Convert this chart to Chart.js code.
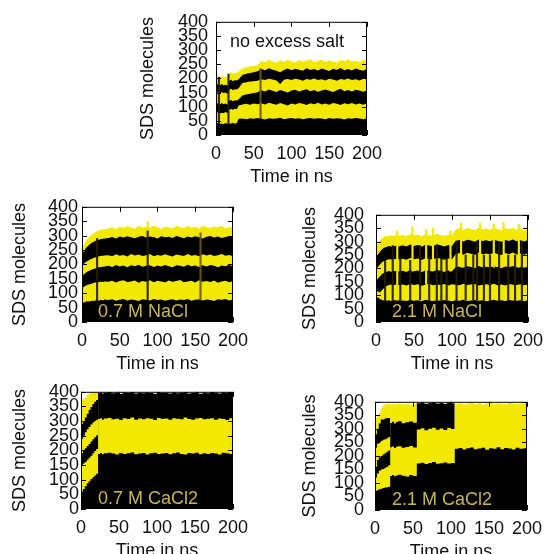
<!DOCTYPE html>
<html>
<head>
<meta charset="utf-8">
<script src="https://cdn.jsdelivr.net/npm/chart.js@4.4.1/dist/chart.umd.min.js"></script>
<style>
    html, body { margin: 0; padding: 0; background: #fff; overflow: hidden; }
    #fig { position: relative; width: 550px; height: 554px; overflow: hidden; }
    #fig canvas { position: absolute; }
</style>
</head>
<body>
<div id="fig"></div>
<script>
'use strict';

// время, нс (общая сетка для всех панелей)
const times = [0, 2.5, 5, 7.5, 10, 12.5, 15, 17.5, 20, 22.5, 25, 27.5, 30,
    35, 40, 45, 50, 55, 60, 65, 70, 75, 80, 85, 90, 95, 100, 105, 110, 115, 120,
    125, 130, 135, 140, 145, 150, 155, 160, 165, 170, 175, 180, 185, 190, 195, 200];

// границы полос (накопленное число молекул SDS), снизу вверх
// no excess salt
const noSalt1 = [40, 42, 39, 41, 38, 42, 40, 39, 41, 43, 40, 42, 57,
    58, 56, 59, 57, 60, 58, 55, 59, 57, 58, 61, 56, 58, 60, 57, 59, 56,
    58, 60, 57, 59, 58, 56, 60, 57, 59, 58, 55, 59, 57, 60, 58, 56, 59];
const noSalt2 = [78, 80, 76, 79, 77, 81, 78, 90, 92, 89, 93, 91, 104,
    108, 110, 107, 111, 109,
    112, 108, 114, 110, 107, 113, 109, 104, 111, 108, 113, 110, 106, 112, 109,
    114, 108, 111, 107, 113, 110, 106, 112, 109, 113, 108, 111, 107, 112];
const noSalt3 = [110, 112, 108, 113, 109, 111, 107, 121, 124, 119, 123, 122, 126,
    140, 143, 146, 148, 151,
    158, 154, 161, 156, 152, 159, 155, 150, 157, 160, 154, 158, 162, 155, 159,
    153, 157, 161, 156, 152, 158, 163, 155, 159, 154, 160, 157, 153, 158];
const noSalt4 = [149, 151, 147, 152, 148, 150, 146, 160, 163, 158, 162, 161, 165,
    184, 186, 189, 190, 192,
    197, 194, 199, 196, 193, 180, 195, 198, 194, 199, 196, 192, 198, 195, 200,
    194, 197, 193, 199, 196, 192, 198, 195, 200, 194, 197, 193, 199, 196];
const noSalt5 = [177, 179, 175, 180, 176, 178, 174, 192, 195, 190, 194, 193, 197,
    212, 216, 219, 222, 225,
    233, 229, 236, 231, 227, 222, 230, 235, 229, 234, 231, 227, 236, 230, 233,
    228, 235, 231, 226, 234, 230, 237, 229, 233, 228, 235, 231, 227, 234];
const noSalt6 = [205, 208, 203, 209, 204, 207, 200, 218, 222, 216, 220, 219, 224,
    236, 239, 242, 244, 246,
    262, 257, 266, 259, 255, 264, 258, 267, 260, 256, 265, 259, 263, 268, 257,
    262, 266, 258, 264, 260, 256, 265, 261, 268, 259, 263, 257, 266, 262];

// 0.7 M NaCl
const nacl07_1 = [66, 68, 70, 72, 71, 74, 73, 75, 76, 74, 77, 75, 78,
    76, 79, 74, 77, 80, 75, 78, 76, 73, 79, 77, 75, 80, 76, 78, 74, 77,
    79, 75, 78, 76, 80, 74, 77, 79, 75, 78, 76, 73, 79, 77, 80, 75, 78];
const nacl07_2 = [118, 122, 126, 129, 131, 133, 135, 137, 138, 139, 140, 139, 141,
    140, 143, 137, 142, 145, 139, 141, 144, 136, 142, 140, 145, 138, 143, 141, 137, 144,
    140, 142, 146, 138, 141, 143, 137, 145, 140, 142, 139, 144, 136, 141, 143, 138, 142];
const nacl07_3 = [160, 166, 171, 175, 178, 181, 184, 186, 188, 190, 191, 192, 193,
    195, 191, 198, 193, 196, 190, 197, 194, 199, 192, 195, 197, 191, 196, 193, 198, 194,
    190, 197, 195, 192, 199, 194, 196, 191, 197, 193, 198, 195, 190, 196, 194, 199, 193];
const nacl07_4 = [195, 202, 208, 212, 216, 219, 222, 224, 226, 228, 229, 230, 231,
    232, 228, 235, 230, 233, 227, 236, 231, 234, 229, 232, 236, 228, 233, 230, 235, 231,
    227, 234, 232, 229, 236, 230, 233, 228, 235, 231, 234, 229, 232, 236, 230, 233, 228];
const nacl07_5 = [235, 246, 256, 263, 269, 274, 278, 281, 284, 286, 288, 289, 290,
    292, 295, 290, 297, 293, 298, 294, 291, 296, 299, 293, 297, 295, 290, 298, 294, 296,
    292, 299, 295, 291, 297, 293, 298, 294, 290, 296, 299, 293, 297, 292, 295, 298, 294];
const nacl07_6 = [255, 268, 280, 290, 297, 303, 308, 312, 315, 318, 320, 321, 322,
    325, 329, 322, 331, 326, 333, 328, 324, 335, 327, 331, 326, 334, 329, 323, 332, 328,
    325, 334, 330, 326, 333, 327, 331, 324, 335, 329, 326, 332, 328, 334, 325, 330, 327];

// 2.1 M NaCl
const nacl21_1 = [88, 92, 86, 83, 80, 82, 79, 81, 78, 80, 82, 79, 81,
    80, 78, 82, 79, 81, 77, 83, 80, 78, 81, 79, 82, 80, 77, 81, 79, 83,
    78, 80, 82, 79, 81, 77, 80, 83, 79, 81, 78, 82, 80, 79, 81, 78, 80];
const nacl21_2 = [112, 115, 110, 118, 125, 132, 136, 138, 140, 137, 139, 141, 138,
    140, 136, 142, 138, 141, 135, 139, 143, 137, 140, 138, 142, 136, 141, 139, 137, 143,
    138, 140, 142, 136, 139, 141, 138, 143, 137, 140, 136, 142, 139, 138, 141, 137, 140];
const nacl21_3 = [150, 162, 170, 178, 183, 186, 188, 190, 187, 191, 189, 192, 188,
    191, 187, 194, 189, 192, 186, 193, 190, 188, 194, 191, 187, 192, 189,
    204, 207, 202, 208, 205, 201, 209, 204, 206, 203, 208, 205, 201, 207, 204, 209, 203, 206, 202, 207];
const nacl21_4 = [195, 205, 214, 222, 227, 230, 232, 234, 233, 236, 234, 237, 233,
    236, 232, 239, 234, 237, 231, 238, 235, 233, 240, 236, 232, 237, 234,
    254, 257, 251, 258, 255, 250, 259, 253, 256, 252, 258, 254, 250, 257, 253, 259, 252, 256, 251, 257];
const nacl21_5 = [240, 252, 262, 270, 276, 279, 282, 284, 281, 285, 283, 286, 282,
    286, 282, 289, 284, 287, 281, 288, 285, 283, 290, 286, 282, 287, 284,
    303, 306, 300, 307, 304, 299, 308, 302, 305, 301, 307, 303, 299, 306, 302, 308, 301, 305, 300, 306];
const nacl21_6 = [280, 295, 305, 312, 317, 320, 322, 321, 324, 321, 323, 325, 322,
    325, 321, 328, 323, 326, 320, 327, 324, 322, 329, 325, 321, 326, 323,
    346, 350, 343, 351, 347, 342, 352, 345, 349, 344, 351, 347, 342, 350, 346, 352, 344, 349, 343, 348];

// 0.7 M CaCl2 (верхние полосы есть только в начале)
const cacl07_1 = [60, 68, 78, 88, 95, 102, 108, 114, 120,
    188, 191, 187, 190, 192, 189, 186, 191, 188, 190, 193, 187, 189, 191, 186, 190, 192, 188, 189,
    191, 187, 190, 193, 188, 186, 191, 189, 192, 187, 190, 188, 191, 189, 186, 192, 190, 188, 191];
const cacl07_2 = [150, 155, 160, 168, 175, 182, 190, 198, 205,
    307, 310, 305, 309, 311, 306, 308, 304, 310, 307, 312, 305, 309, 306, 310, 308, 304, 311, 307,
    309, 305, 310, 308, 306, 312, 307, 305, 309, 311, 306, 308, 310, 305, 309, 307, 304, 310, 308];
const cacl07_3 = [190, 198, 207, 215, 222, 230, 238, 245, 252,
    396, 398, 394, 397, 399, 395, 397, 393, 398, 396, 399, 394, 397, 395, 398, 396, 393, 399, 396,
    397, 394, 398, 395, 397, 399, 394, 396, 398, 393, 397, 395, 399, 396, 394, 398, 396, 397, 395];
const cacl07_4 = [240, 250, 262, 272, 280, 288, 295, 300, 305, 396];
const cacl07_5 = [290, 300, 312, 325, 338, 348, 358, 366, 372, 396];
const cacl07_6 = [372, 375, 380, 388, 394, 397, 398, 398, 398, 398];

// 2.1 M CaCl2
const cacl21_1 = [70, 74, 77, 79, 81, 83, 84, 86,
    126, 129, 125, 128, 130, 127, 124, 129, 126,
    172, 175, 170, 174, 177, 171, 173, 176, 172, 174,
    226, 229, 224, 228, 231, 225, 227, 230, 223, 228, 226, 232, 225, 229, 227, 224, 230, 226, 228, 225];
const cacl21_2 = [120, 135, 145, 150, 152, 156, 160, 165,
    232, 235, 229, 234, 236, 230, 233, 237, 231,
    298, 302, 295, 300, 304, 297, 301, 296, 303, 299,
    393, 395, 391, 394, 396, 392, 395, 390, 394, 396, 392, 395, 393, 391, 396, 394, 392, 395, 393, 394];
const cacl21_3 = [160, 185, 195, 200, 205, 210, 215, 220,
    322, 326, 320, 325, 328, 321, 324, 327, 323,
    395, 397, 393, 396, 398, 394, 396, 393, 397, 395, 396];
const cacl21_4 = [230, 245, 250, 255, 260, 262, 265, 270,
    391, 393, 390, 392, 394, 391, 393, 390, 392, 395];
const cacl21_5 = [280, 300, 320, 335, 335, 338, 340, 340, 391];
const cacl21_6 = [340, 350, 358, 375, 385, 390, 392, 394, 391];

// кратковременные выбросы (вертикальные штрихи): время, от, до
const noSaltSpikeT = [3.9, 16.5, 59];
const noSaltSpikeLo = [40, 40, 58];
const noSaltSpikeHi = [205, 215, 235];

const nacl07SpikeT = [20, 87, 87, 157];
const nacl07SpikeLo = [76, 76, 318, 76];
const nacl07SpikeHi = [290, 318, 348, 310];

const nacl21DarkT = [12, 22, 32, 45, 58, 70, 80, 86, 93, 106, 118, 128, 133, 142, 150, 162, 174, 183, 192];
const nacl21DarkLo = [82, 80, 81, 80, 82, 80, 81, 80, 82, 80, 81, 80, 82, 80, 81, 80, 82, 80, 81];
const nacl21DarkHi = [230, 285, 240, 230, 285, 240, 285, 235, 240, 300, 250, 250, 300, 250, 250, 300, 250, 250, 300];
const nacl21LightT = [28, 48, 66, 75, 98, 112, 137, 155, 168, 188];
const nacl21LightLo = [140, 190, 140, 200, 190, 205, 255, 205, 255, 205];
const nacl21LightHi = [340, 355, 345, 350, 340, 368, 370, 365, 372, 365];

const BLACK = '#000000';
const YELLOW = '#f3e800';
const DARK = 'rgba(35,28,5,0.9)';
const BROWN = 'rgba(105,85,30,0.9)';
const SALT_TEXT = '#c9b558';
const FONT = '"Liberation Sans", Arial, Helvetica, sans-serif';

Chart.defaults.font.family = FONT;
Chart.defaults.font.size = 18;
Chart.defaults.color = '#111';

// расположение панелей: область графика в пикселях страницы
const panels = [
    {
        bounds: [noSalt1, noSalt2, noSalt3, noSalt4, noSalt5, noSalt6], stepped: false,
        spikes: { t: noSaltSpikeT, lo: noSaltSpikeLo, hi: noSaltSpikeHi, color: [DARK, DARK, BROWN] },
        text: 'no excess salt', textColor: '#111', dx: 14, dy: 20, fromTop: true,
        left: 216, top: 15, right: 370, bottom: 135, tickGap: 8, titlePad: 1.5,
    },
    {
        bounds: [nacl07_1, nacl07_2, nacl07_3, nacl07_4, nacl07_5, nacl07_6], stepped: false,
        spikes: { t: nacl07SpikeT, lo: nacl07SpikeLo, hi: nacl07SpikeHi, color: [DARK, DARK, YELLOW, BROWN] },
        text: '0.7 M NaCl', textColor: SALT_TEXT, dx: 16, dy: -10, fromTop: false,
        left: 82, top: 204, right: 236, bottom: 322, tickGap: 4, titlePad: 6.9,
    },
    {
        bounds: [nacl21_1, nacl21_2, nacl21_3, nacl21_4, nacl21_5, nacl21_6], stepped: false,
        spikes: {
            t: nacl21LightT.concat(nacl21DarkT),
            lo: nacl21LightLo.concat(nacl21DarkLo),
            hi: nacl21LightHi.concat(nacl21DarkHi),
            color: nacl21LightT.map(() => YELLOW).concat(nacl21DarkT.map(() => DARK)),
        },
        text: '2.1 M NaCl', textColor: SALT_TEXT, dx: 16, dy: -10, fromTop: false,
        left: 376, top: 204, right: 531, bottom: 322, tickGap: 12, titlePad: 3.2,
    },
    {
        bounds: [cacl07_1, cacl07_2, cacl07_3, cacl07_4, cacl07_5, cacl07_6], stepped: true,
        spikes: null,
        text: '0.7 M CaCl2', textColor: SALT_TEXT, dx: 17, dy: -10, fromTop: false,
        left: 81, top: 391, right: 236, bottom: 509, tickGap: 2, titlePad: 7.9,
    },
    {
        bounds: [cacl21_1, cacl21_2, cacl21_3, cacl21_4, cacl21_5, cacl21_6], stepped: true,
        spikes: null,
        text: '2.1 M CaCl2', textColor: SALT_TEXT, dx: 17, dy: -10, fromTop: false,
        left: 375, top: 392, right: 530, bottom: 510, tickGap: 11, titlePad: 4.2,
    },
];

const Y_AXIS_W = 80;
const X_AXIS_H = 53;
const PAD_TOP = 12;
const PAD_RIGHT = 20;

/** Рамка, внутренние засечки и подпись внутри графика */
function overlayPlugin(p) {
    return {
        id: 'overlay',
        afterDatasetsDraw(chart) {
            const { ctx, chartArea: a } = chart;
            const x = chart.scales.x;
            const y = chart.scales.y;
            ctx.save();
            ctx.strokeStyle = '#000';
            ctx.lineWidth = 1;
            ctx.beginPath();
            for (const t of x.ticks) {
                const px = Math.round(x.getPixelForValue(t.value)) + 0.5;
                ctx.moveTo(px, a.top); ctx.lineTo(px, a.top + 5);
                ctx.moveTo(px, a.bottom); ctx.lineTo(px, a.bottom - 5);
            }
            for (const t of y.ticks) {
                const py = Math.round(y.getPixelForValue(t.value)) + 0.5;
                ctx.moveTo(a.left, py); ctx.lineTo(a.left + 5, py);
                ctx.moveTo(a.right, py); ctx.lineTo(a.right - 5, py);
            }
            ctx.stroke();
            ctx.strokeRect(a.left + 0.5, a.top + 0.5, a.right - a.left - 1, a.bottom - a.top - 1);

            ctx.font = '18px ' + FONT;
            ctx.fillStyle = p.textColor;
            ctx.textBaseline = 'middle';
            ctx.textAlign = 'left';
            ctx.fillText(p.text, a.left + p.dx, p.fromTop ? a.top + p.dy : a.bottom + p.dy);
            ctx.restore();
        },
    };
}

function makePanel(p) {
    const canvas = document.createElement('canvas');
    const w = p.right - p.left + Y_AXIS_W + PAD_RIGHT;
    const h = p.bottom - p.top + PAD_TOP + X_AXIS_H;
    canvas.width = w;
    canvas.height = h;
    canvas.style.width = w + 'px';
    canvas.style.height = h + 'px';
    canvas.style.left = (p.left - Y_AXIS_W) + 'px';
    canvas.style.top = (p.top - PAD_TOP) + 'px';
    document.getElementById('fig').appendChild(canvas);

    // каждая граница заливается до нуля; нижние рисуются поверх верхних
    const datasets = p.bounds.map((vals, i) => ({
        type: 'line',
        data: vals.map((v, k) => ({ x: times[k], y: v })),
        fill: 'origin',
        backgroundColor: i % 2 === 0 ? BLACK : YELLOW,
        borderColor: 'transparent',
        borderWidth: 0,
        pointRadius: 0,
        tension: 0,
        stepped: p.stepped,
    }));
    if (p.spikes) {
        datasets.push({
            type: 'bar',
            data: p.spikes.t.map((t, k) => ({ x: t, y: [p.spikes.lo[k], p.spikes.hi[k]] })),
            backgroundColor: p.spikes.color,
            barThickness: 1.5,
            order: -1,
        });
    }

    return new Chart(canvas.getContext('2d'), {
        type: 'line',
        data: { datasets },
        options: {
            responsive: false,
            animation: false,
            devicePixelRatio: 1,
            layout: { padding: { left: 0, top: PAD_TOP, right: PAD_RIGHT, bottom: 0 } },
            plugins: { legend: { display: false }, tooltip: { enabled: false } },
            scales: {
                x: {
                    type: 'linear',
                    min: 0,
                    max: 200,
                    offset: false,
                    grid: { display: false, drawTicks: false },
                    border: { display: false },
                    ticks: { stepSize: 50, autoSkip: false, maxRotation: 0, padding: 8, color: '#111' },
                    title: { display: true, text: 'Time in ns', color: '#111', padding: { top: 0, bottom: 0 } },
                    afterFit(scale) { scale.height = X_AXIS_H; },
                },
                y: {
                    min: 0,
                    max: 400,
                    grid: { display: false, drawTicks: false },
                    border: { display: false },
                    ticks: { stepSize: 50, autoSkip: false, padding: p.tickGap, color: '#111' },
                    title: { display: true, text: 'SDS molecules', color: '#111', padding: { top: p.titlePad, bottom: 0 } },
                    afterFit(scale) { scale.width = Y_AXIS_W; },
                },
            },
        },
        plugins: [overlayPlugin(p)],
    });
}

panels.forEach(makePanel);
</script>
</body>
</html>
